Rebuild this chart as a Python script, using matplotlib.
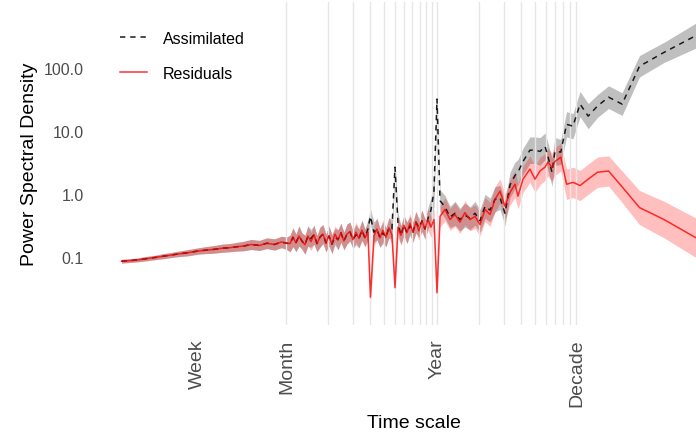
import numpy as np
import matplotlib.pyplot as plt
from matplotlib.lines import Line2D

plt.rcParams["font.family"] = ["Liberation Sans", "DejaVu Sans"]

# Period of each spectral estimate, in days (lowest frequencies are N/k, N ~ 31000 days)
period_days = [
    2.0, 2.3, 2.6, 3.0, 3.5, 4.0, 4.6, 5.3, 6.0, 7.0, 8.0, 9.0, 10.5, 12, 13.5, 15, 17, 19.5, 22, 25, 28, 30.5,
    32.3, 33.9, 35.6, 37.4, 39.3, 41.3, 43.4, 45.6, 47.9, 50.4, 52.9, 55.6, 58.4, 61.4, 64.5, 67.8, 71.2,
    74.8, 78.6, 82.6, 86.8, 91.2, 95.8, 100.7, 105.8, 111.2, 116.8, 121.75, 129.0, 135.5, 142.4, 149.6,
    157.2, 165.2, 173.6, 182.6, 191.7, 201.4, 211.6, 222.4, 233.7, 245.5, 258.0, 271.1, 284.9, 299.4,
    314.6, 330.6, 347.4, 365.25,
    384, 417, 453, 492, 533, 579, 630, 684, 743, 807, 877, 951, 1033, 1122, 1219, 1324, 1390, 1510,
    1694, 1841, 2000, 2173, 2280, 2438, 2559, 2818,
    3100, 3444, 3875, 4429, 5167, 6200, 7750, 10333, 15500, 31000,
]

# log10 of the power spectral density
residual_log = [
    -1.06, -1.05, -1.04, -1.02, -1.00, -0.98, -0.96, -0.94, -0.925, -0.90, -0.885, -0.875, -0.855, -0.845,
    -0.83, -0.82, -0.795, -0.81, -0.775, -0.795, -0.755, -0.775,
    -0.78, -0.68, -0.77, -0.66, -0.74, -0.80, -0.66, -0.75, -0.64, -0.78, -0.68, -0.63, -0.77, -0.66,
    -0.79, -0.63, -0.72, -0.61, -0.74, -0.63, -0.59, -0.72, -0.60, -0.70, -0.57, -0.69, -0.60, -1.63,
    -0.66, -0.55, -0.69, -0.57, -0.68, -0.53, -0.64, -1.48, -0.52, -0.65, -0.49, -0.61, -0.46, -0.60,
    -0.44, -0.58, -0.42, -0.55, -0.40, -0.52, -0.40, -1.56,
    -0.35, -0.24, -0.40, -0.32, -0.44, -0.29, -0.40, -0.35, -0.48, -0.24, -0.32, -0.08, 0.05, -0.19,
    0.03, 0.16, -0.03, 0.24, 0.40, 0.24, 0.37, 0.43, 0.51, 0.43, 0.52, 0.59,
    0.16, 0.19, 0.14, 0.24, 0.35, 0.37, 0.12, -0.21, -0.40, -0.78,
]
assimilated_log = [
    -1.06, -1.05, -1.04, -1.02, -1.00, -0.98, -0.96, -0.94, -0.925, -0.90, -0.885, -0.875, -0.855, -0.845,
    -0.83, -0.82, -0.795, -0.81, -0.775, -0.795, -0.755, -0.775,
    -0.78, -0.68, -0.77, -0.66, -0.74, -0.80, -0.66, -0.70, -0.64, -0.78, -0.68, -0.63, -0.77, -0.66,
    -0.79, -0.67, -0.72, -0.61, -0.74, -0.63, -0.59, -0.72, -0.64, -0.70, -0.57, -0.69, -0.55, -0.35,
    -0.60, -0.55, -0.69, -0.61, -0.68, -0.53, -0.55, 0.43, -0.45, -0.65, -0.49, -0.61, -0.50, -0.60,
    -0.44, -0.53, -0.42, -0.55, -0.38, -0.25, 0.05, 1.51,
    -0.10, -0.20, -0.36, -0.30, -0.40, -0.33, -0.38, -0.30, -0.42, -0.19, -0.25, -0.08, -0.05, -0.30,
    0.15, 0.30, 0.35, 0.52, 0.70, 0.70, 0.68, 0.76, 0.60, 0.35, 0.68, 0.67,
    1.11, 1.08, 1.43, 1.24, 1.40, 1.54, 1.43, 2.03, 2.25, 2.60,
]

# half width of the confidence band, in log10 units
residual_ci = [
    0.03, 0.03, 0.03, 0.035, 0.035, 0.04, 0.04, 0.045, 0.05, 0.05, 0.055, 0.06, 0.065, 0.065, 0.07,
    0.075, 0.08, 0.08, 0.085, 0.09, 0.09, 0.10,
    0.13, 0.15, 0.14, 0.16, 0.13, 0.15, 0.16, 0.14, 0.15, 0.13, 0.16, 0.15, 0.14, 0.16, 0.15, 0.13,
    0.16, 0.15, 0.14, 0.16, 0.15, 0.14, 0.16, 0.15, 0.16, 0.14, 0.15, 0.12, 0.16, 0.17, 0.15, 0.17,
    0.15, 0.16, 0.15, 0.12, 0.17, 0.15, 0.16, 0.17, 0.15, 0.16, 0.17, 0.15, 0.17, 0.16, 0.17, 0.16,
    0.17, 0.12,
    0.17, 0.18, 0.17, 0.19, 0.18, 0.19, 0.18, 0.19, 0.18, 0.19, 0.19, 0.20, 0.19, 0.20, 0.20, 0.21,
    0.20, 0.21, 0.21, 0.21, 0.22, 0.21, 0.22, 0.22, 0.22, 0.22,
    0.24, 0.24, 0.24, 0.24, 0.24, 0.24, 0.25, 0.27, 0.29, 0.32,
]
assimilated_ci = [
    0.03, 0.03, 0.03, 0.035, 0.035, 0.04, 0.04, 0.045, 0.05, 0.05, 0.055, 0.06, 0.065, 0.065, 0.07,
    0.075, 0.08, 0.08, 0.085, 0.09, 0.09, 0.10,
    0.13, 0.15, 0.14, 0.16, 0.13, 0.15, 0.16, 0.14, 0.15, 0.13, 0.16, 0.15, 0.14, 0.16, 0.15, 0.13,
    0.16, 0.15, 0.14, 0.16, 0.15, 0.14, 0.16, 0.15, 0.16, 0.14, 0.15, 0.12, 0.16, 0.17, 0.15, 0.17,
    0.15, 0.16, 0.15, 0.12, 0.17, 0.15, 0.16, 0.17, 0.15, 0.16, 0.17, 0.15, 0.17, 0.16, 0.17, 0.20,
    0.25, 0.12,
    0.17, 0.18, 0.17, 0.19, 0.18, 0.19, 0.18, 0.19, 0.18, 0.19, 0.19, 0.20, 0.19, 0.20, 0.20, 0.21,
    0.20, 0.21, 0.21, 0.21, 0.22, 0.21, 0.22, 0.22, 0.22, 0.20,
    0.20, 0.20, 0.20, 0.20, 0.18, 0.18, 0.18, 0.17, 0.16, 0.21,
]

tick_days = [7, 30.4375, 365.25, 3652.5]
tick_names = ["Week", "Month", "Year", "Decade"]
months = list(range(1, 13))
years = list(range(2, 11))
psd_ticks = [0.1, 1, 10, 100]
psd_labels = ["0.1", "1.0", "10.0", "100.0"]

period = np.array(period_days)
res_log = np.array(residual_log)
ass_log = np.array(assimilated_log)
res_ci = np.array(residual_ci)
ass_ci = np.array(assimilated_ci)

fig = plt.figure(figsize=(6.96, 4.35), dpi=100)
# panel runs past the right edge of the picture, as in the original
ax = fig.add_axes([92.3 / 696, 109.5 / 435, 643 / 696, 322.5 / 435])
ax.set_xscale("log")
ax.set_yscale("log")

ax.fill_between(period, 10 ** (ass_log - ass_ci), 10 ** (ass_log + ass_ci),
                color="black", alpha=0.25, linewidth=0)
ax.fill_between(period, 10 ** (res_log - res_ci), 10 ** (res_log + res_ci),
                color="red", alpha=0.25, linewidth=0)
ax.plot(period, 10 ** ass_log, color="#1a1a1a", linewidth=1.1, dashes=(3.5, 3.2))
ax.plot(period, 10 ** res_log, color="red", alpha=0.8, linewidth=1.1)

ax.set_xlim(1.235, 50230)
ax.set_ylim(0.00865, 1117)

# vertical guides at every month up to a year and every year up to a decade
guides = [30.4375 * m for m in months] + [365.25 * y for y in years]
ax.xaxis.remove_overlapping_locs = False
ax.set_xticks(guides, minor=True)
ax.set_xticks(tick_days)
ax.set_xticklabels(tick_names, rotation=90, fontsize=14, color="#4D4D4D")
ax.set_yticks(psd_ticks)
ax.set_yticklabels(psd_labels, fontsize=11.5, color="#4D4D4D")
ax.yaxis.set_minor_locator(plt.NullLocator())
ax.xaxis.set_minor_formatter(plt.NullFormatter())
ax.tick_params(which="both", length=0)
ax.tick_params(axis="x", pad=10)
ax.tick_params(axis="y", pad=6)
ax.grid(False)
ax.grid(True, axis="x", which="minor", color="#E6E6E6", linewidth=1.0)
for s in ax.spines.values():
    s.set_visible(False)

ax.set_xlabel("Time scale", fontsize=14)
ax.set_ylabel("Power Spectral Density", fontsize=14)
ax.xaxis.set_label_coords(0.5, -0.278)
ax.yaxis.set_label_coords(-0.0845, 0.5)

handles = [
    Line2D([], [], color="#1a1a1a", linewidth=1.1, dashes=(3.5, 3.2)),
    Line2D([], [], color="red", alpha=0.8, linewidth=1.1),
]
ax.legend(handles, ["Assimilated", "Residuals"], loc="upper left",
          bbox_to_anchor=(0.043, 0.91), frameon=False, fontsize=11.5,
          borderpad=0, borderaxespad=0, handlelength=1.7, handletextpad=1.0,
          labelspacing=1.22)

fig.savefig("out.png", dpi=100)
